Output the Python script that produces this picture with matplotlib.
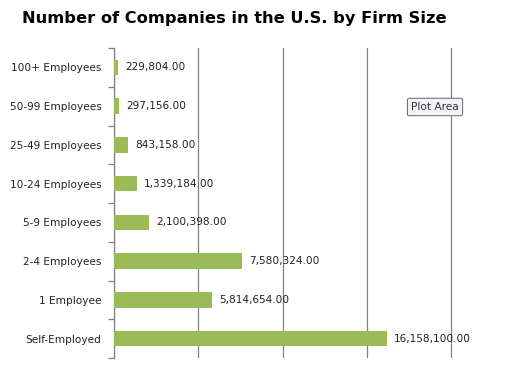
import matplotlib.pyplot as plt
import numpy as np

categories = ["Self-Employed", "1 Employee", "2-4 Employees", "5-9 Employees",
              "10-24 Employees", "25-49 Employees", "50-99 Employees", "100+ Employees"]
companies = [16158100, 5814654, 7580324, 2100398, 1339184, 843158, 297156, 229804]

bar_color = "#9BBB59"

fig = plt.figure(figsize=(5.26, 3.69), dpi=100)
ax = fig.add_axes([114 / 526, 11 / 369, 339 / 526, (358 - 48) / 369])

y = np.arange(len(categories))
ax.barh(y, companies, height=0.4, color=bar_color, zorder=3)

for yi, v in zip(y, companies):
    ax.annotate(f"{v:,.2f}", (v, yi), xytext=(5, 0), textcoords="offset points",
                va="center", ha="left", fontsize=7.6, color="#222222", zorder=4)

ax.set_xlim(0, 20100000)
ax.set_ylim(-0.5, len(categories) - 0.5)
ax.set_xticks([0, 5000000, 10000000, 15000000, 20000000])
ax.xaxis.grid(True, color="#808080", linewidth=0.9, zorder=1)
ax.tick_params(axis="x", length=0, labelbottom=False)

ax.set_yticks(y)
ax.set_yticklabels(categories, fontsize=7.6, color="#222222")
ax.set_yticks(np.arange(-0.5, len(categories)), minor=True)
ax.tick_params(axis="y", which="major", length=0, pad=9)
ax.tick_params(axis="y", which="minor", length=4, color="#808080", width=0.9)

for s in ["top", "right", "bottom"]:
    ax.spines[s].set_visible(False)
ax.spines["left"].set_color("#808080")
ax.spines["left"].set_linewidth(0.9)

fig.text(22 / 526, 1 - 18 / 369, "Number of Companies in the U.S. by Firm Size",
         fontsize=11.7, fontweight="bold", ha="left", va="center")

fig.text(435 / 526, 1 - 107 / 369, "Plot Area", fontsize=7.6, ha="center", va="center",
         color="#333333",
         bbox=dict(boxstyle="round,pad=0.35,rounding_size=0.15", facecolor="#f2f2f7",
                   edgecolor="#777777", linewidth=0.8))

fig.savefig("out.png", dpi=100)
